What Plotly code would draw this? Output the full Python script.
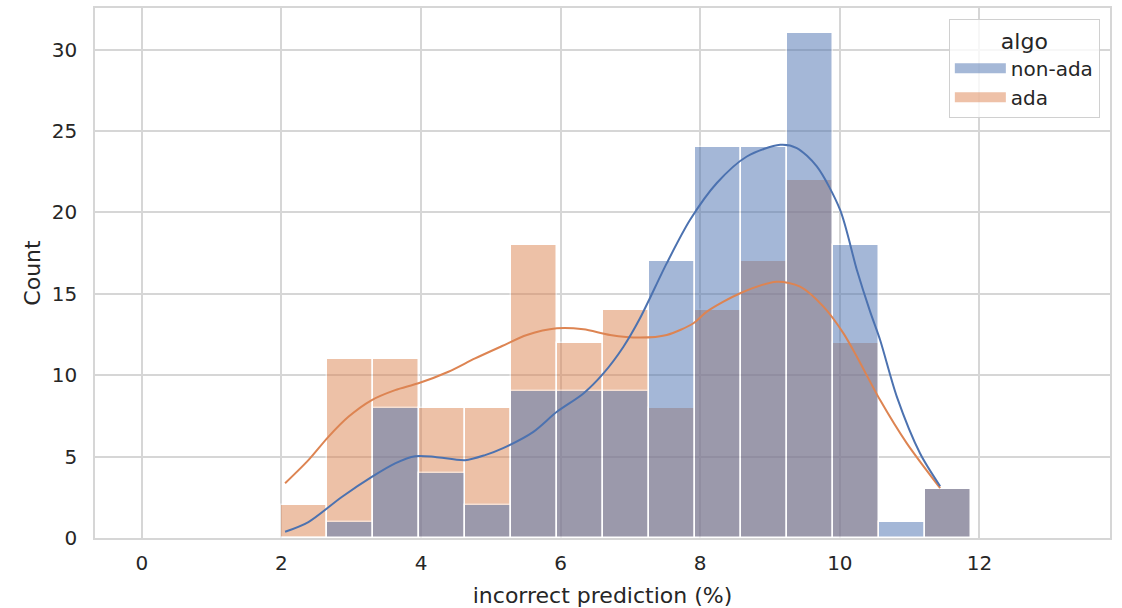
import plotly.graph_objects as go

# Histogram bins (shared edges) and counts per algorithm
bin_start = 1.99
bin_width = 0.659
counts_non_ada = [0, 1, 8, 4, 2, 9, 9, 9, 17, 24, 24, 31, 18, 1, 3]
counts_ada = [2, 11, 11, 8, 8, 18, 12, 14, 8, 14, 17, 22, 12, 0, 3]

# KDE curves (scaled to counts)
kde_non_ada_x = [2.053, 2.387, 2.865, 3.295, 3.629, 3.916, 4.202, 4.632, 4.918, 5.176,
                 5.610, 5.946, 6.327, 6.613, 6.900, 7.139, 7.521, 7.855, 8.238, 8.668,
                 9.145, 9.384, 9.670, 10.004, 10.244, 10.434, 10.577, 10.817, 11.150, 11.437]
kde_non_ada_y = [0.38, 0.98, 2.52, 3.75, 4.58, 5.02, 4.98, 4.78, 5.09, 5.52,
                 6.52, 7.75, 8.88, 10.11, 11.75, 13.51, 16.88, 19.54, 21.80, 23.43,
                 24.15, 23.95, 22.82, 20.15, 16.46, 13.9, 12.16, 8.67, 5.19, 3.18]
kde_ada_x = [2.053, 2.387, 2.673, 2.960, 3.295, 3.629, 3.963, 4.393, 4.775, 5.162,
             5.516, 5.946, 6.327, 6.709, 7.139, 7.521, 7.903, 8.095, 8.572, 9.097,
             9.431, 9.765, 10.052, 10.244, 10.577, 10.960, 11.437]
kde_ada_y = [3.36, 4.78, 6.21, 7.44, 8.47, 9.08, 9.50, 10.21, 11.03, 11.79,
             12.47, 12.88, 12.82, 12.47, 12.31, 12.47, 13.19, 13.90, 15.03, 15.74,
             15.44, 14.21, 12.57, 11.13, 8.47, 5.81, 3.06]

x_ticks = [0, 2, 4, 6, 8, 10, 12]
y_ticks = [0, 5, 10, 15, 20, 25, 30]
labels = ["non-ada", "ada"]

BLUE = "#4c72b0"
ORANGE = "#dd8452"
GRID = "#d6d6d6"
TEXT = "#262626"
FONT = "DejaVu Sans"

centers = [bin_start + bin_width * (i + 0.5) for i in range(len(counts_ada))]

fig = go.Figure()

# ada bars below, non-ada bars on top (layered)
for counts, color in [(counts_ada, ORANGE), (counts_non_ada, BLUE)]:
    fig.add_trace(go.Bar(
        x=centers, y=counts, width=bin_width,
        marker=dict(color=color, line=dict(color="white", width=1.5)),
        opacity=0.5, showlegend=False, hoverinfo="skip",
    ))

fig.add_trace(go.Scatter(x=kde_ada_x, y=kde_ada_y, mode="lines",
                         line=dict(color=ORANGE, width=2, shape="spline", smoothing=0.8),
                         showlegend=False))
fig.add_trace(go.Scatter(x=kde_non_ada_x, y=kde_non_ada_y, mode="lines",
                         line=dict(color=BLUE, width=2, shape="spline", smoothing=0.8),
                         showlegend=False))

# legend patches
for name, color in zip(labels, [BLUE, ORANGE]):
    fig.add_trace(go.Scatter(x=[None], y=[None], mode="lines", name=name,
                             line=dict(color=color, width=12), opacity=0.5))

axis_common = dict(
    showgrid=True, gridcolor=GRID, gridwidth=1.5,
    showline=True, linecolor=GRID, linewidth=1.5, mirror=True,
    zeroline=False, ticks="", automargin=False,
    tickfont=dict(family=FONT, size=20, color=TEXT),
)

fig.update_layout(
    width=1122, height=608,
    margin=dict(l=95, r=12, t=8, b=70),
    paper_bgcolor="white", plot_bgcolor="white",
    barmode="overlay", bargap=0,
    font=dict(family=FONT, color=TEXT),
    xaxis=dict(range=[-0.67, 13.87], tickvals=x_ticks, ticklabelstandoff=6,
               title=dict(text="incorrect prediction (%)", standoff=16,
                          font=dict(family=FONT, size=22, color=TEXT)),
               **axis_common),
    yaxis=dict(range=[0, 32.55], tickvals=y_ticks, ticklabelstandoff=12,
               title=dict(text="Count", standoff=5,
                          font=dict(family=FONT, size=22, color=TEXT)),
               **axis_common),
    legend=dict(
        x=0.990, y=0.979, xanchor="right", yanchor="top",
        bgcolor="rgba(255,255,255,0.8)", bordercolor="#d0d0d0", borderwidth=1,
        font=dict(family=FONT, size=20, color=TEXT),
        title=dict(text="algo", side="top center", font=dict(family=FONT, size=22, color=TEXT)),
        itemwidth=51,
    ),
)

fig.write_html("out.html")
